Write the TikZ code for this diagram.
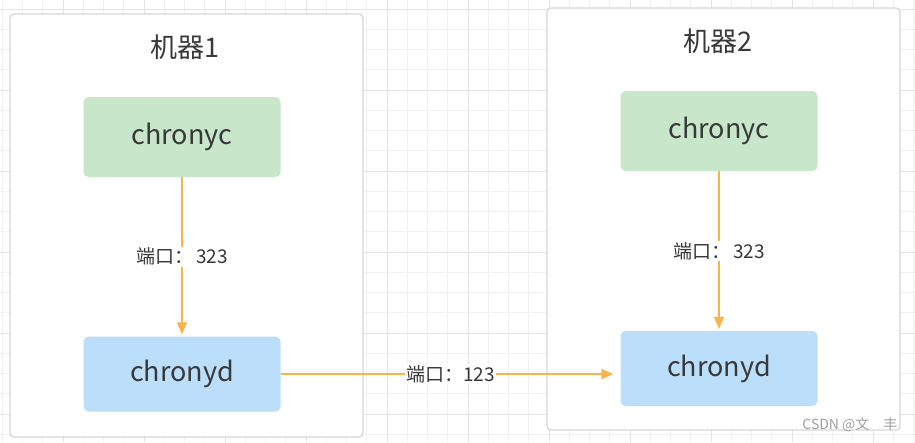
\documentclass[tikz,border=0pt]{standalone}
\usepackage{fontspec}
\setmainfont{Noto Sans CJK SC}
\usetikzlibrary{arrows.meta, positioning}
\definecolor{BoxLine}{HTML}{D6D6D6}
\definecolor{GridMinor}{HTML}{F1F1F1}
\definecolor{GridMajor}{HTML}{E3E3E3}
\definecolor{LightGreen}{HTML}{C8E6C9}
\definecolor{LightBlue}{HTML}{BBDEFB}
\definecolor{ArrowOrange}{HTML}{F6B44A}
\definecolor{TextGray}{HTML}{383838}

\begin{document}
\begin{tikzpicture}[
    x=1pt, y=-1pt,
    machine/.style={draw=BoxLine, line width=1.3pt, fill=white, rounded corners=4pt,
                    minimum width=353pt, inner sep=0pt},
    title/.style={text=TextGray, font=\fontsize{27}{30}\selectfont},
    proc/.style={rounded corners=5pt, minimum width=197pt, minimum height=80pt,
                 inner sep=0pt, text=TextGray, font=\fontsize{27}{30}\selectfont},
    client/.style={proc, fill=LightGreen},
    daemon/.style={proc, fill=LightBlue, minimum height=75pt},
    link/.style={-{Triangle[length=12pt, width=10pt]}, line width=1.8pt, ArrowOrange},
    port/.style={fill=white, inner sep=1.5pt, text=TextGray, font=\fontsize{19}{22}\selectfont},
]
\useasboundingbox (0,0) rectangle (915,442);
\fill[white] (0,0) rectangle (915,442);

% ============ grid ============
\foreach \gx in {2.25,22.5,...,915} \draw[GridMinor, line width=0.8pt] (\gx,0) -- (\gx,442);
\foreach \gy in {9,29.25,...,442} \draw[GridMinor, line width=0.8pt] (0,\gy) -- (915,\gy);
\foreach \gx in {63,144,...,915} \draw[GridMajor, line width=0.9pt] (\gx,0) -- (\gx,442);
\foreach \gy in {9,90,...,442} \draw[GridMajor, line width=0.9pt] (0,\gy) -- (915,\gy);

% ============ machine 1 ============
\node[machine, minimum height=423pt] (m1) at (186.5,225.5) {};
\node[title] (t1) at (185,47) {机器1};
\node[client] (c1) at (182,137) {chronyc};
\node[daemon] (d1) at (182,374) {chronyd};
\draw[link, shorten >=2pt] (c1) -- node[port] {端口：\,323} (d1);

% ============ machine 2 ============
\node[machine, minimum height=422pt] (m2) at (723.5,219) {};
\node[title] (t2) at (718,41) {机器2};
\node[client] (c2) at (719,131) {chronyc};
\node[daemon] (d2) at (719,368.5) {chronyd};
\draw[link, shorten >=2pt] (c2) -- node[port] {端口：\,323} (d2);

% ntp between machines
\draw[link, shorten >=7pt] (d1.east) -- node[port] {端口：123} (d1.east -| d2.west);

% watermark
\node[text=gray!75, font=\fontsize{14}{16}\selectfont, anchor=east] (wm) at (901,425) {CSDN @文\quad 丰};

\end{tikzpicture}
\end{document}
